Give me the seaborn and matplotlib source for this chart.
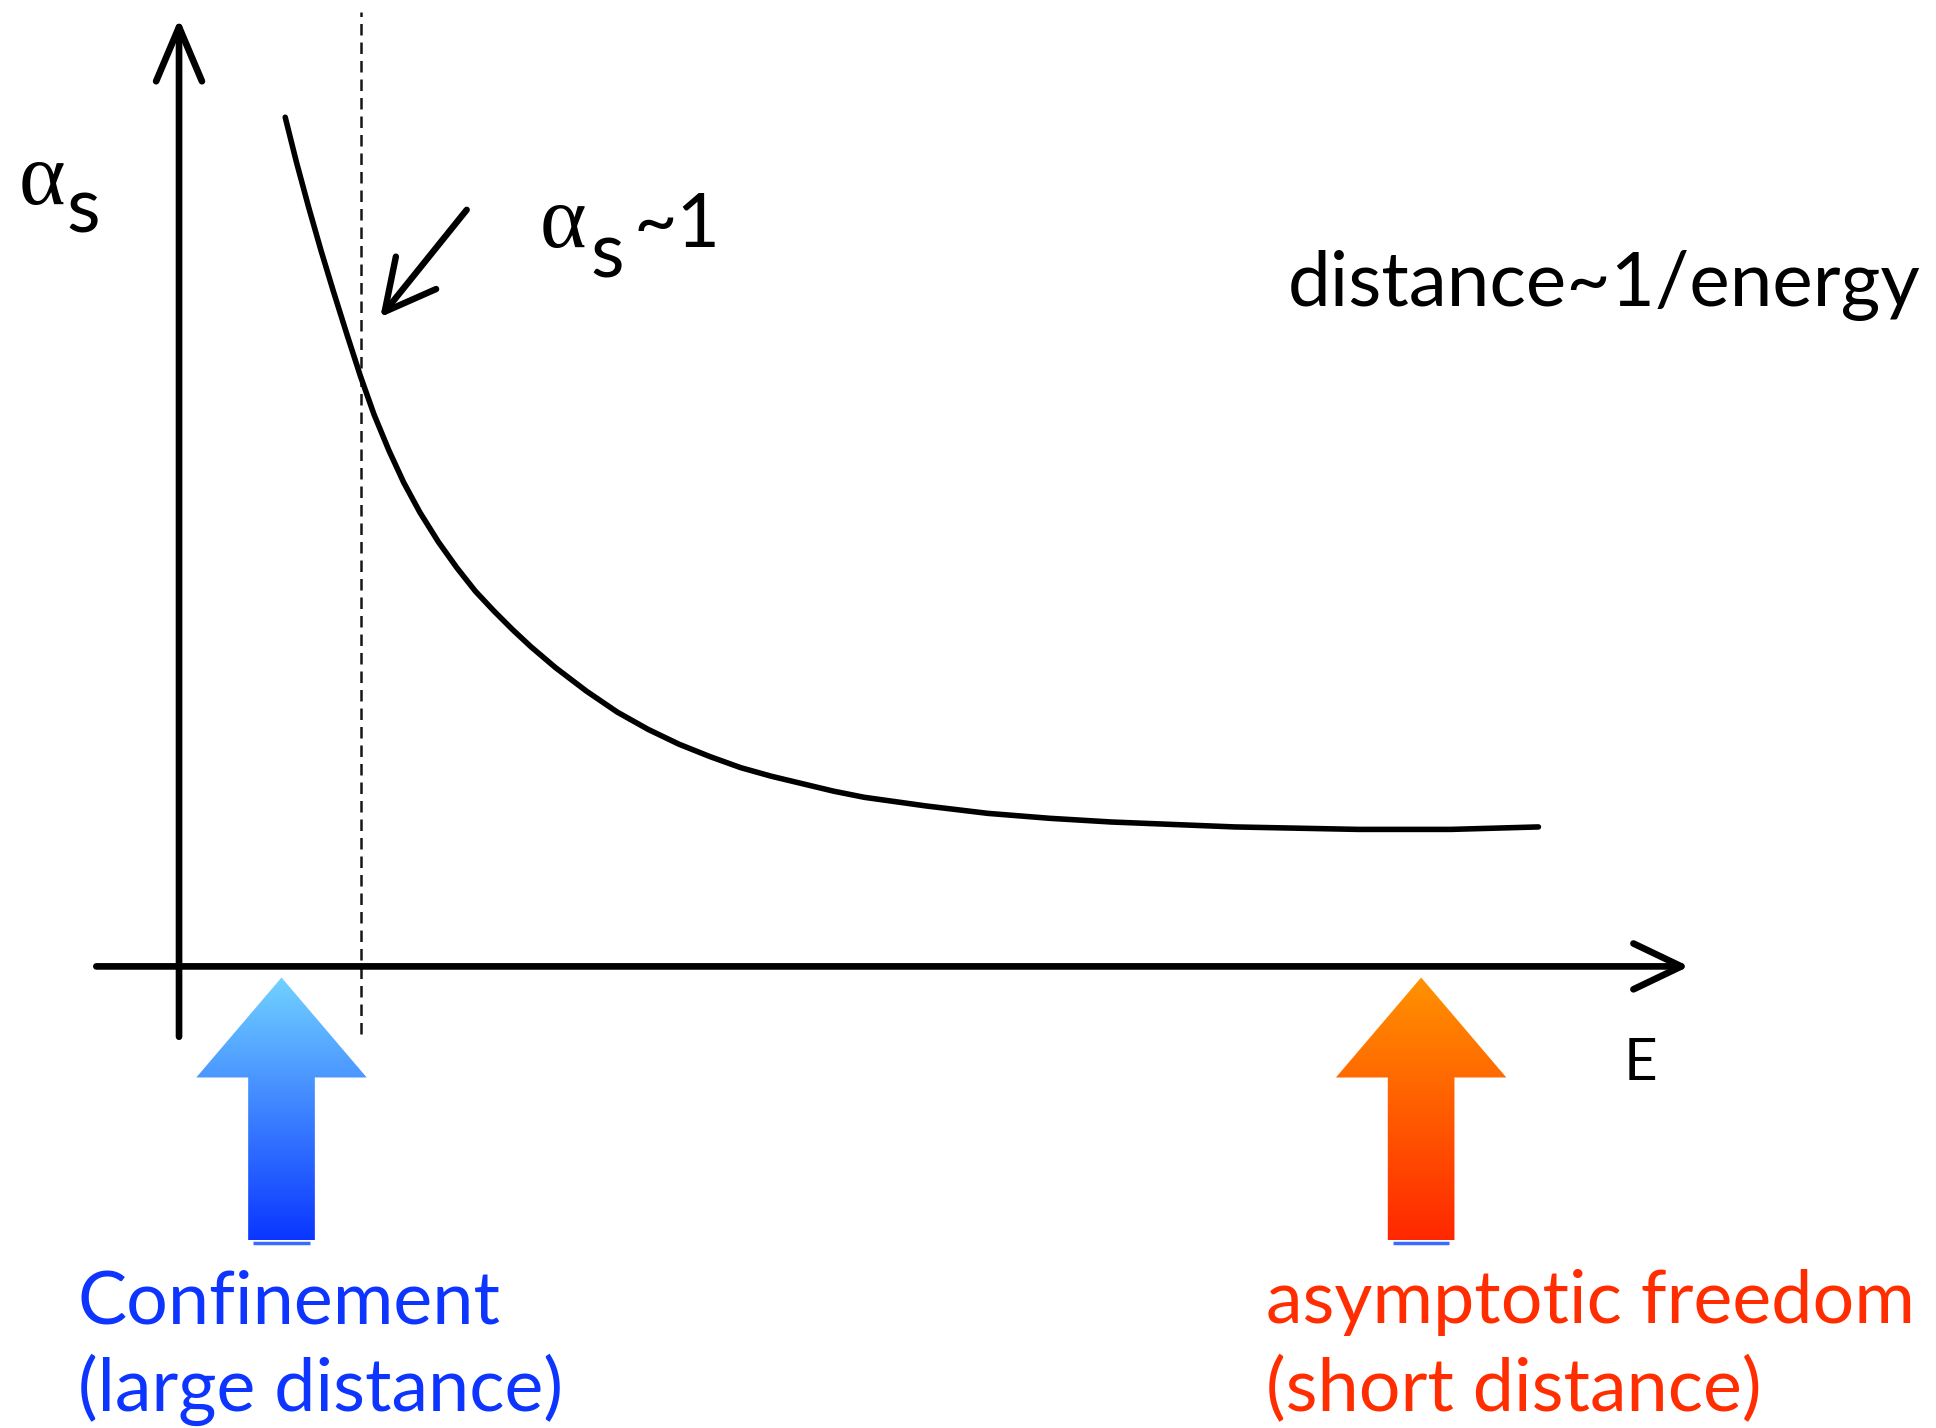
import numpy as np
import matplotlib
matplotlib.use("Agg")
import matplotlib.pyplot as plt
from matplotlib.patches import Polygon
from matplotlib.colors import LinearSegmentedColormap
import seaborn as sns

# running coupling sketch: alpha_s vs E (arbitrary units, origin at axes crossing)
energy = [0.86, 0.95, 1.05, 1.15, 1.25, 1.36, 1.47, 1.58, 1.70, 1.82, 1.95,
          2.10, 2.25, 2.40, 2.55, 2.70, 2.85, 3.05, 3.30, 3.55, 3.80, 4.05,
          4.30, 4.55, 4.80, 5.05, 5.30, 5.55, 6.05, 6.55, 7.05, 7.55, 8.05,
          8.55, 9.05, 9.55, 10.30, 11.01]
alpha_s = [6.88, 6.52, 6.15, 5.80, 5.47, 5.12, 4.78, 4.47, 4.18, 3.92, 3.68,
           3.44, 3.23, 3.04, 2.88, 2.73, 2.59, 2.42, 2.23, 2.06, 1.92, 1.80,
           1.70, 1.61, 1.54, 1.48, 1.42, 1.37, 1.30, 1.24, 1.20, 1.17, 1.15,
           1.13, 1.12, 1.11, 1.11, 1.13]

# where alpha_s ~ 1 (dashed marker)
e_conf = 1.47

# the two regimes marked under the E axis
regime_e = [0.83, 10.06]
regime_top = ["Confinement", "asymptotic freedom"]
regime_bottom = ["(large distance)", "(short distance)"]
regime_colors = [("#0a36ff", "#72d2ff"), ("#ff2800", "#ff9200")]
regime_text_color = ["#0d35ff", "#ff2d00"]

sns.set_theme(style="white")
plt.rcParams["font.family"] = ["Lato", "DejaVu Sans"]
plt.rcParams["text.color"] = "black"

fig = plt.figure(figsize=(19.36, 14.28), dpi=100)
ax = fig.add_axes([0, 0, 1, 1])

# curve
sns.lineplot(x=energy, y=alpha_s, ax=ax, color="black", linewidth=4.0,
             sort=False, estimator=None, zorder=3)
ax.lines[-1].set_solid_joinstyle("round")

# dashed line at alpha_s ~ 1
ax.plot([e_conf, e_conf], [-0.55, 7.73], color="#151515", lw=1.8,
        dashes=(4.6, 2.8), zorder=2)

# axes with open arrow heads
arrow_kw = dict(color="black", lw=4.8, shrinkA=0, shrinkB=0,
                capstyle="round", joinstyle="round", mutation_scale=30)
ax.annotate("", xy=(0, 7.68), xytext=(0, -0.57),
            arrowprops=dict(arrowstyle="->,head_length=1.3,head_width=0.55", **arrow_kw))
ax.annotate("", xy=(12.23, 0), xytext=(-0.67, 0),
            arrowprops=dict(arrowstyle="->,head_length=1.15,head_width=0.55", **arrow_kw))

# small pointer to the crossing
ax.annotate("", xy=(1.63, 5.26), xytext=(2.33, 6.13),
            arrowprops=dict(arrowstyle="->,head_length=1.2,head_width=0.62",
                            color="black", lw=4.6, shrinkA=0, shrinkB=0,
                            capstyle="round", joinstyle="round", mutation_scale=30))

# gradient block arrows
tip_y, base_y, bot_y = -0.09, -0.90, -2.22
head_hw, shaft_hw = 0.69, 0.27
for xc, (c_bot, c_top) in zip(regime_e, regime_colors):
    verts = [(xc, tip_y), (xc + head_hw, base_y), (xc + shaft_hw, base_y),
             (xc + shaft_hw, bot_y), (xc - shaft_hw, bot_y), (xc - shaft_hw, base_y),
             (xc - head_hw, base_y)]
    poly = Polygon(verts, closed=True, facecolor="none", edgecolor="none")
    ax.add_patch(poly)
    cmap = LinearSegmentedColormap.from_list("g", [c_bot, c_top])
    grad = np.linspace(0, 1, 256).reshape(-1, 1)
    im = ax.imshow(grad, extent=[xc - head_hw, xc + head_hw, bot_y, tip_y],
                   origin="lower", cmap=cmap, aspect="auto", zorder=2)
    im.set_clip_path(poly)
    # thin blue underline seen below each shaft
    ax.plot([xc - shaft_hw * 0.85, xc + shaft_hw * 0.85], [bot_y - 0.02, bot_y - 0.02],
            color="#3a6bff", lw=2.5, solid_capstyle="butt", zorder=2)

# labels
ax.text(-1.30, 6.18, "α", fontsize=64, family=["Liberation Serif"], va="baseline")
ax.text(-0.91, 5.95, "s", fontsize=56, va="baseline")

ax.text(2.92, 5.83, "α", fontsize=64, family=["Liberation Serif"], va="baseline")
ax.text(3.33, 5.58, "s", fontsize=56, va="baseline")
ax.text(3.68, 5.83, "~1", fontsize=54, va="baseline")

ax.text(8.98, 5.35, "distance~1/energy", fontsize=55, va="baseline")
ax.text(11.70, -0.92, "E", fontsize=42, va="baseline")

for xl, t1, t2, col in zip([-0.82, 8.80], regime_top, regime_bottom, regime_text_color):
    ax.text(xl, -2.89, t1, fontsize=53, color=col, va="baseline")
    ax.text(xl, -3.60, t2, fontsize=53, color=col, va="baseline")

ax.set_xlim(-1.45, 14.23)
ax.set_ylim(-3.74, 7.83)
ax.axis("off")

fig.savefig("out.png", dpi=100, facecolor="white")
